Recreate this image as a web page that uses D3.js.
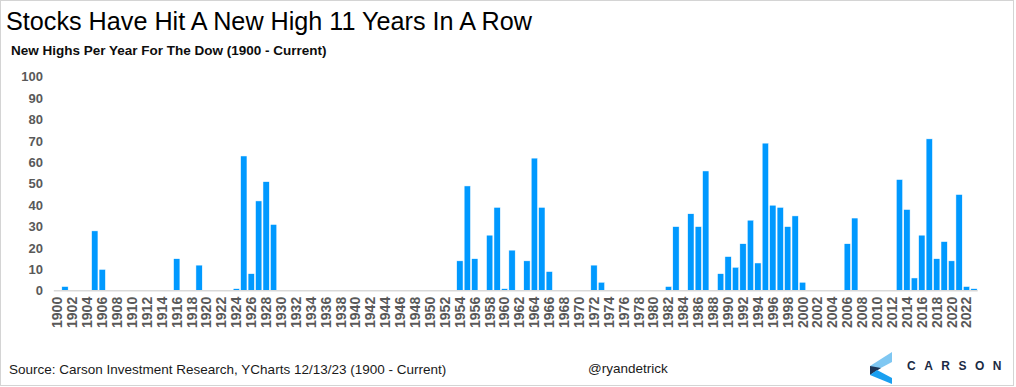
<!DOCTYPE html>
<html>
<head>
<meta charset="utf-8">
<script src="https://cdn.jsdelivr.net/npm/d3@7"></script>
<style>
  body { margin: 0; background: #fff; }
  svg { display: block; font-family: "Liberation Sans", Arial, sans-serif; }
</style>
</head>
<body>
<div class="graph"></div>
<script>
// years 1900 - 2023, new highs per year for the Dow
var years = d3.range(1900, 2024);
var newHighs = [
  0, 2, 0, 0, 0, 28, 10, 0, 0, 0,       // 1900s
  0, 0, 0, 0, 0, 0, 15, 0, 0, 12,       // 1910s
  0, 0, 0, 0, 1, 63, 8, 42, 51, 31,     // 1920s
  0, 0, 0, 0, 0, 0, 0, 0, 0, 0,         // 1930s
  0, 0, 0, 0, 0, 0, 0, 0, 0, 0,         // 1940s
  0, 0, 0, 0, 14, 49, 15, 0, 26, 39,    // 1950s
  1, 19, 0, 14, 62, 39, 9, 0, 0, 0,     // 1960s
  0, 0, 12, 4, 0, 0, 0, 0, 0, 0,        // 1970s
  0, 0, 2, 30, 0, 36, 30, 56, 0, 8,     // 1980s
  16, 11, 22, 33, 13, 69, 40, 39, 30, 35, // 1990s
  4, 0, 0, 0, 0, 0, 22, 34, 0, 0,       // 2000s
  0, 0, 0, 52, 38, 6, 26, 71, 15, 23,   // 2010s
  14, 45, 2, 1                          // 2020s
];
var yTicks = [0, 10, 20, 30, 40, 50, 60, 70, 80, 90, 100];

var title = "Stocks Have Hit A New High 11 Years In A Row";
var subtitle = "New Highs Per Year For The Dow (1900 - Current)";
var source = "Source: Carson Investment Research, YCharts 12/13/23 (1900 - Current)";
var handle = "@ryandetrick";

var data = years.map(function (y, i) { return { year: y, value: newHighs[i] }; });

var width = 1016, height = 387;
var svg = d3.select(".graph").append("svg")
    .attr("width", width)
    .attr("height", height);

// outer frame
svg.append("rect")
    .attr("x", 0.5).attr("y", 0.5)
    .attr("width", 1013).attr("height", 385)
    .attr("fill", "#fff")
    .attr("stroke", "#d4d4d4");

svg.append("text")
    .attr("x", 6).attr("y", 30)
    .attr("font-size", 25.2)
    .attr("fill", "#000")
    .text(title);

svg.append("text")
    .attr("x", 11).attr("y", 55)
    .attr("font-size", 13.5)
    .attr("font-weight", "bold")
    .attr("fill", "#0d0d0d")
    .text(subtitle);

var x = d3.scaleBand()
    .domain(years)
    .range([53.8, 977.7])
    .paddingInner(0.15)
    .paddingOuter(0.075);
var y = d3.scaleLinear().domain([0, 100]).range([290.8, 76.8]);

// y axis labels
var yAxis = svg.append("g")
    .attr("transform", "translate(43,0)")
    .call(d3.axisLeft(y).tickValues(yTicks).tickSize(0).tickPadding(0));
yAxis.select(".domain").remove();
yAxis.selectAll("text")
    .attr("font-family", "Liberation Sans, Arial, sans-serif")
    .attr("font-size", 13)
    .attr("font-weight", "bold")
    .attr("fill", "#595959");

// bars
svg.append("g").selectAll("rect")
    .data(data.filter(function (d) { return d.value > 0; }))
    .join("rect")
    .attr("x", function (d) { return x(d.year); })
    .attr("y", function (d) { return y(d.value); })
    .attr("width", x.bandwidth())
    .attr("height", function (d) { return y(0) - y(d.value); })
    .attr("fill", "#0099ff")
    .attr("stroke", "#fff")
    .attr("stroke-width", 0.5);

// x axis, every other year, rotated
var xAxis = svg.append("g")
    .attr("transform", "translate(0," + y(0) + ")")
    .call(d3.axisBottom(x)
        .tickValues(years.filter(function (d) { return d % 2 === 0; }))
        .tickSize(0).tickPadding(0));
xAxis.select(".domain")
    .attr("stroke", "#d9d9d9")
    .attr("stroke-width", 1.5)
    .attr("d", "M53.8,0H977.7");
xAxis.selectAll("text")
    .attr("font-family", "Liberation Sans, Arial, sans-serif")
    .attr("font-size", 14)
    .attr("font-weight", "bold")
    .attr("fill", "#595959")
    .attr("text-anchor", "end")
    .attr("dy", "0.35em")
    .attr("transform", "translate(0,6) rotate(-90)")
    .attr("x", 0).attr("y", 0);

// footer
svg.append("text")
    .attr("x", 9).attr("y", 374)
    .attr("font-size", 13.5)
    .attr("fill", "#1a1a1a")
    .text(source);

svg.append("text")
    .attr("x", 588).attr("y", 373)
    .attr("font-size", 13.5)
    .attr("fill", "#1a1a1a")
    .text(handle);

// Carson logo
var logo = svg.append("g");
logo.append("path")
    .attr("d", "M892,352 L892,362 L877,370 L870,366 Z")
    .attr("fill", "#7fc7f2");
logo.append("path")
    .attr("d", "M870,366 L881,368 L870,375 Z")
    .attr("fill", "#1d3557");
logo.append("path")
    .attr("d", "M870,375 L877,370 L892,378 L892,384 Z")
    .attr("fill", "#199ff0");
logo.append("text")
    .attr("x", 907).attr("y", 370)
    .attr("font-size", 12)
    .attr("font-weight", "bold")
    .attr("letter-spacing", 8.5)
    .attr("fill", "#1b2a44")
    .text("CARSON");
</script>
</body>
</html>
